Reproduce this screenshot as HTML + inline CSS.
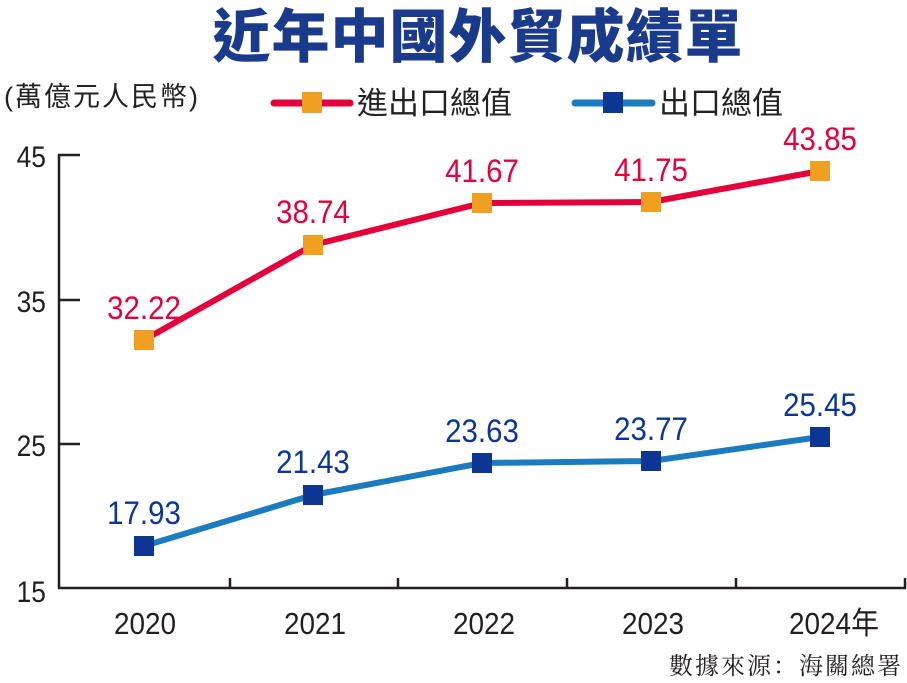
<!DOCTYPE html>
<html><head><meta charset="utf-8"><style>
body{margin:0;background:#fff}
svg{display:block}
.n{font-family:"Liberation Sans",sans-serif}
.c{font-family:"Liberation Sans","Noto Sans CJK TC",sans-serif}
</style></head><body>
<svg width="907" height="683" viewBox="0 0 907 683" xmlns="http://www.w3.org/2000/svg">
<text x="478" y="57" text-anchor="middle" class="c" font-size="58" font-weight="900" fill="#1a3a8c" letter-spacing="1">近年中國外貿成績單</text>
<text x="4" y="106" class="c" font-size="27" fill="#222" letter-spacing="2">(萬億元人民幣)</text>
<line x1="274" y1="103" x2="350" y2="103" stroke="#e4003a" stroke-width="7" stroke-linecap="round"/>
<rect x="302" y="92" width="20" height="21" fill="#f0a020"/>
<text x="357" y="114" class="c" font-size="31" fill="#222">進出口總值</text>
<line x1="575" y1="103" x2="652" y2="103" stroke="#1a7bbf" stroke-width="7" stroke-linecap="round"/>
<rect x="603" y="92" width="20" height="21" fill="#0d3594"/>
<text x="659" y="114" class="c" font-size="31" fill="#222">出口總值</text>
<g stroke="#231f20" stroke-width="2.5" fill="none">
<polyline points="80,155 59,155 59,588 906,588"/>
<line x1="59" y1="300" x2="80" y2="300"/><line x1="59" y1="444" x2="80" y2="444"/>
<line x1="230" y1="578" x2="230" y2="588"/><line x1="398" y1="578" x2="398" y2="588"/>
<line x1="567" y1="578" x2="567" y2="588"/><line x1="736" y1="578" x2="736" y2="588"/>
<line x1="905" y1="578" x2="905" y2="588"/>
</g>
<g class="n" font-size="30" fill="#231f20" text-anchor="end">
<text x="46" y="167" transform="translate(46 0) scale(0.88 1) translate(-46 0)">45</text>
<text x="46" y="312" transform="translate(46 0) scale(0.88 1) translate(-46 0)">35</text>
<text x="46" y="456" transform="translate(46 0) scale(0.88 1) translate(-46 0)">25</text>
<text x="46" y="602" transform="translate(46 0) scale(0.88 1) translate(-46 0)">15</text>
</g>
<g class="c" font-size="31" fill="#231f20" text-anchor="middle">
<text x="145" y="634" transform="translate(145 0) scale(0.9 1) translate(-145 0)">2020</text>
<text x="315" y="634" transform="translate(315 0) scale(0.9 1) translate(-315 0)">2021</text>
<text x="484" y="634" transform="translate(484 0) scale(0.9 1) translate(-484 0)">2022</text>
<text x="653" y="634" transform="translate(653 0) scale(0.9 1) translate(-653 0)">2023</text>
<text x="834" y="634" transform="translate(834 0) scale(0.9 1) translate(-834 0)">2024年</text>
</g>
<text x="903" y="674" text-anchor="end" font-size="24" fill="#231f20" font-family="Noto Serif CJK SC, serif" letter-spacing="2">數據來源：海關總署</text>
<polyline points="144,340 313,245 482,203 651,202 820,171" fill="none" stroke="#e4003a" stroke-width="6" stroke-linejoin="round"/>
<polyline points="144,546 313,495 482,463 651,461 820,437" fill="none" stroke="#1a7bbf" stroke-width="6" stroke-linejoin="round"/>
<g fill="#f0a020">
<rect x="134" y="330" width="20" height="20"/><rect x="303" y="235" width="20" height="20"/>
<rect x="472" y="193" width="20" height="20"/><rect x="641" y="192" width="20" height="20"/>
<rect x="810" y="161" width="20" height="20"/></g>
<g fill="#0d3594">
<rect x="134" y="536" width="20" height="20"/><rect x="303" y="485" width="20" height="20"/>
<rect x="472" y="453" width="20" height="20"/><rect x="641" y="451" width="20" height="20"/>
<rect x="810" y="427" width="20" height="20"/></g>
<g class="n" font-size="32" text-anchor="middle" fill="#e4003a">
<text x="144" y="319" transform="translate(144 0) scale(0.92 1) translate(-144 0)">32.22</text>
<text x="313" y="223" transform="translate(313 0) scale(0.92 1) translate(-313 0)">38.74</text>
<text x="482" y="182" transform="translate(482 0) scale(0.92 1) translate(-482 0)">41.67</text>
<text x="651" y="181" transform="translate(651 0) scale(0.92 1) translate(-651 0)">41.75</text>
<text x="820" y="150" transform="translate(820 0) scale(0.92 1) translate(-820 0)">43.85</text>
</g>
<g class="n" font-size="32" text-anchor="middle" fill="#0d3594">
<text x="144" y="524" transform="translate(144 0) scale(0.92 1) translate(-144 0)">17.93</text>
<text x="313" y="473" transform="translate(313 0) scale(0.92 1) translate(-313 0)">21.43</text>
<text x="482" y="442" transform="translate(482 0) scale(0.92 1) translate(-482 0)">23.63</text>
<text x="651" y="440" transform="translate(651 0) scale(0.92 1) translate(-651 0)">23.77</text>
<text x="820" y="416" transform="translate(820 0) scale(0.92 1) translate(-820 0)">25.45</text>
</g>
</svg>
</body></html>
